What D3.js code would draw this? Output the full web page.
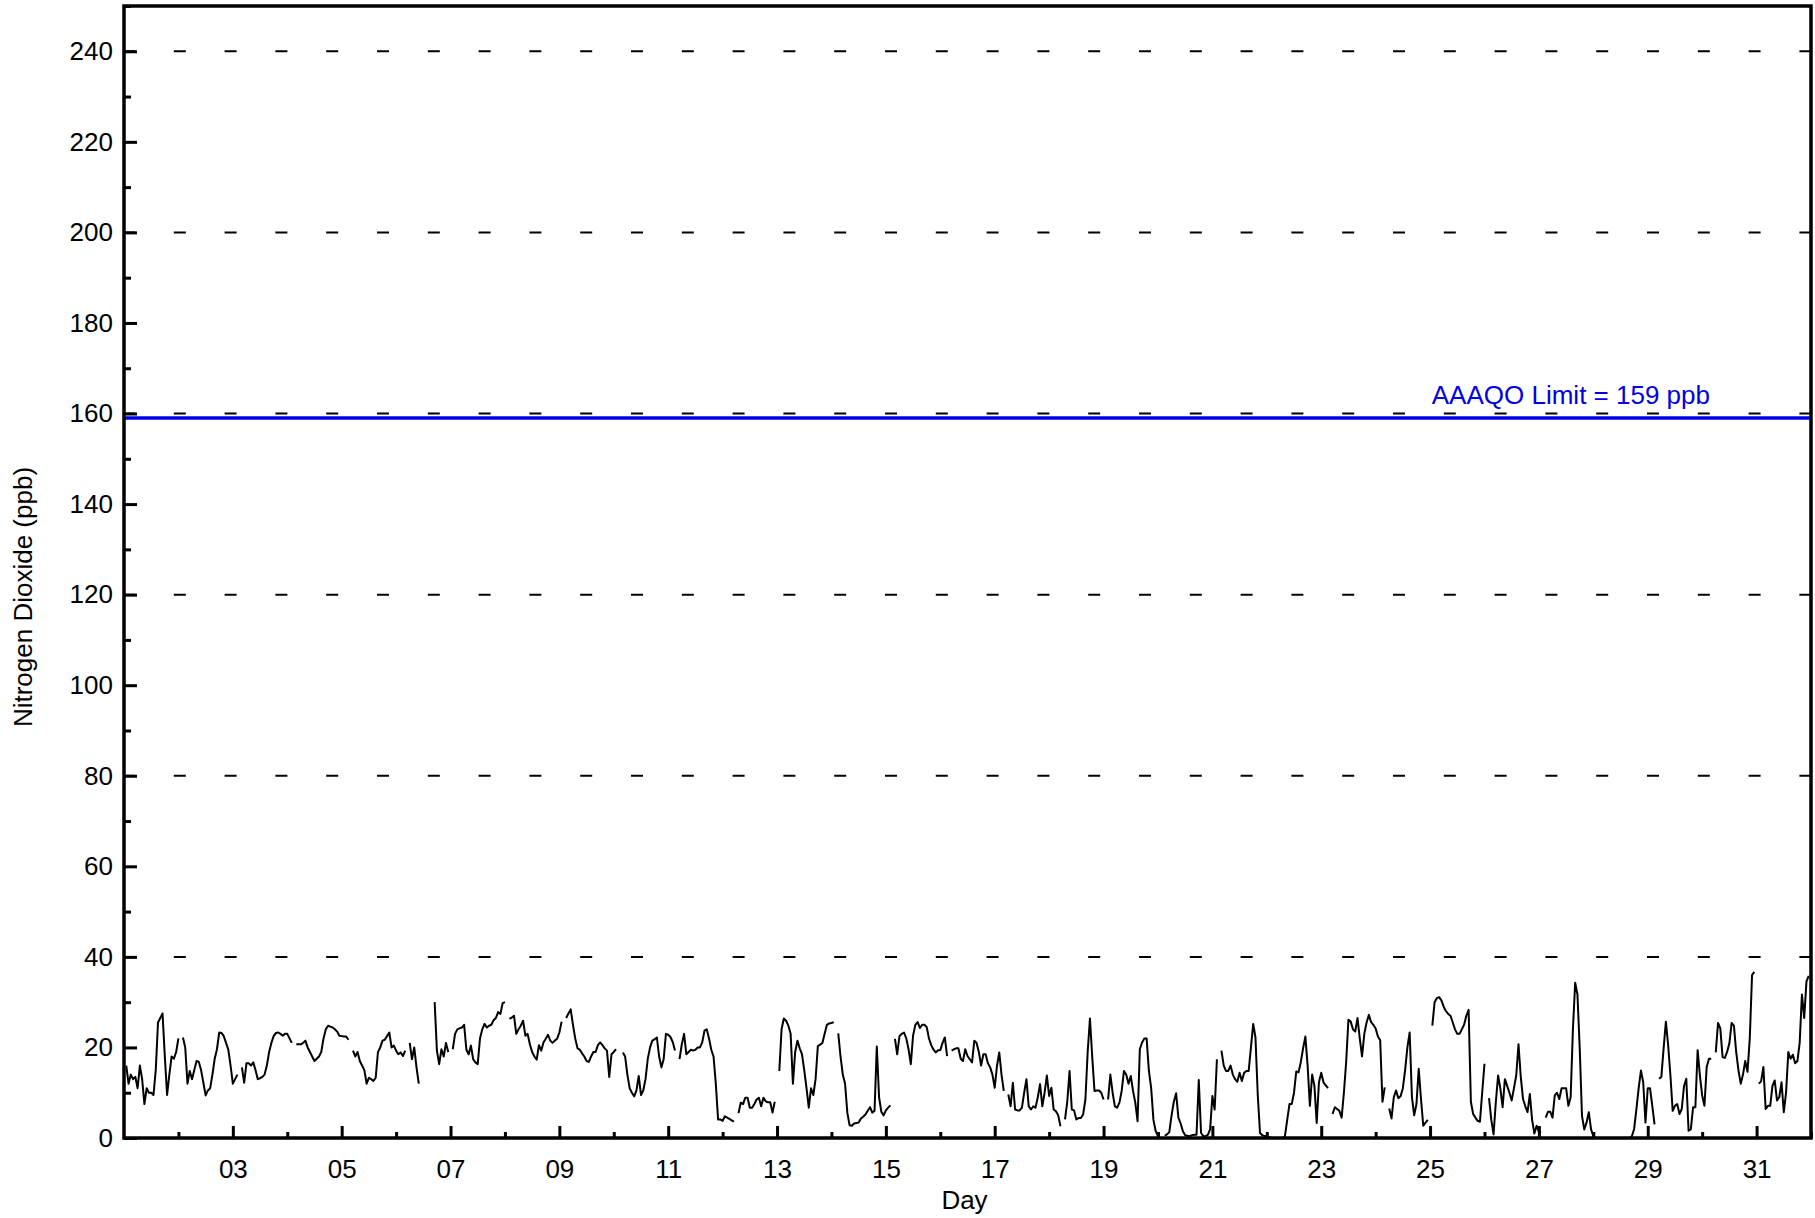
<!doctype html>
<html>
  <head>
    <script src="https://cdnjs.cloudflare.com/ajax/libs/d3/7.8.5/d3.min.js"></script>
  <style>
    body { margin: 0; background: #fff; }
    text { font-family: "Liberation Sans", Arial, sans-serif; }
  </style>
  </head>
  <body>
    <svg id="chart" width="1815" height="1218"></svg>
    <script>
      // hourly NO2 (ppb), one row per day of the month, null = no data
      var no2Hourly = [
        null,16,12,14,13,13.5,11,16,13,7.5,11,10,10,9.5,15,25.5,26.5,27.5,18,9.5,14,18,17.5,19,
        22,null,22.2,20,12,14.8,13,15,17,16.8,15,12.2,9.4,10.5,11,14,17.5,19.6,23.3,23.2,22.5,21,19.5,16,
        12,13,14,null,15.6,12.2,16.5,16.5,16,16.7,15,13,13.2,13.5,14,16,19,21,22.5,23.2,23.3,23,22.6,23,
        23,22,21,null,20.7,20.7,20.7,21,21.5,20,19,18,17,17.5,18,19,22,24,24.8,24.6,24.4,24,23.5,22.6,
        22.5,22.4,22.4,21.7,null,19.3,18,19,17,16,15,12,13.3,13,12.6,13.3,19,20,21.5,21.7,22.5,23.3,20,20.4,
        19.3,18.5,18.9,18.1,19.3,null,21,17.4,20,15.6,12,null,null,null,null,null,null,30,19.3,16.3,19.6,18,21,19,
        null,19.6,23,24,24.2,24.4,25,19.5,18.5,20.4,17.4,16.7,16.3,22,24,25.2,24.4,24.8,25,26,26.5,27.8,27.4,29.8,
        30,null,26.3,26.6,27,23,24,24.8,25.9,22.6,23,20.7,19,18,17.3,20.5,19.3,21.1,21.9,22.8,21.5,21,21.5,21.9,
        23.3,25.7,null,26.5,27.5,28.4,25,22,19.8,19.5,18.7,18,17,16.8,18,19,19,20.5,21.1,20.5,19.8,19.3,13.5,18.5,
        19,19.6,null,null,18.9,18,14,11,10,9.2,10.5,13.7,9.5,10.5,13,17.5,20,21.5,21.8,22.2,18,15.6,17.4,23,
        22.8,22.3,21.2,19.3,null,17.4,20.7,23,18.5,19,19.5,19.3,19.5,20,20,21.1,23.7,24,22,19.5,18,12,4.1,4.1,
        3.8,4.8,4.5,4.2,3.9,3.6,null,5.5,7.8,7.5,8.9,8.9,6.7,6.7,7.5,8.5,8.9,7,8.9,8.1,7.9,7.9,5.6,8,
        null,14.8,24,26.4,25.9,24.8,23,12,19,21.5,19.8,18.5,15,11,6.7,11,9.5,13,20.3,20.6,21,23,25,25.3,
        25.4,25.6,null,23.1,18,14,12,5.6,2.8,2.7,3.2,3.3,3.4,4.3,4.7,5.2,6,6.8,5.6,6,20.2,9,5.8,5,
        6.1,6.7,7.2,null,21.9,18.5,22.5,23,23.3,22,19.6,16.3,22.6,25,25.6,24.3,25,25,24.5,22,20.5,19.5,18.9,19.4,
        19.4,21,22.2,18.1,null,19.3,19.6,19.8,19.8,17.5,17,19.6,18.1,17.4,16.7,21.5,21,19,16,18.5,18.5,16.5,15.6,14,
        11.1,15.9,18.9,14,10.4,null,9.6,7,12.2,6.3,6.1,6.1,6.7,10,13,7,6.3,7,6.7,9,11.9,7,10,13.8,
        9.3,11.1,6.3,5.9,5,2.6,null,4.1,8,14.8,6.3,6.1,4.1,4.4,4.4,5.2,8.5,19,26.4,18,10.4,10.5,10.5,10,
        8.5,null,8.5,14,10,7,6.7,7.8,10.4,14.8,14,12,13.7,10.4,7.8,3.7,19.6,21.1,22,22,14.8,11,4,1.5,
        0.4,null,null,0.5,0.8,1.3,5,8,9.9,4.5,3.2,1.5,0.6,0.5,0.4,0.6,0.7,0.7,12.8,1.1,0.4,0.4,0.7,1.9,
        9.3,6.3,17.4,null,19.3,16,14.8,14.8,16,14,13,12.4,14.4,12.6,14.4,14.8,14.8,20,25.2,22.2,9.6,1.1,0.6,0.4,
        0.5,0.2,0,0,0,0,0,0,0.4,4,7.5,7.5,10,14.7,14.5,16.8,19.8,22.4,16,7.1,14,11.5,3.3,12.3,
        14.4,12.3,11.6,11,null,5.3,6.8,6.4,6,4.5,10,16.8,26.1,25.7,24,23.5,26.5,22,18,23,25.5,27.2,25.6,25,
        24.2,22.4,21.6,8,11.2,null,6.5,4.3,9,10.5,8.8,9.2,11,15,20,23.3,9,5,7.5,15.3,8.6,2.7,3.4,4,
        null,24.8,30,30.9,31.1,30.4,29,28,27.4,27,25.5,24,23,23,24,25,27,28.3,8,5.3,4.5,3.8,3.6,10.1,
        16.4,null,8.8,4,0.8,7.9,13.8,10.9,6.8,13,11.5,10,8.3,11,13.8,20.7,13.5,8.6,7,5.7,9.7,4,1,2.7,
        1.3,1.2,null,4.5,5.8,5.8,4.5,9.4,10,8.6,11,11,11,7.1,9,24,34.3,31.7,19.8,4.9,1.9,3.4,5.7,1.9,
        0.4,0,0,0,0,0,0,0,0,0,0,0,0,0,0,0,0,0.4,2,6.4,11,14.9,12.3,3.4,
        11,11,7.1,3,null,13.1,13.5,19.8,25.7,20.5,13.8,6,7.1,7.5,5.3,6.4,11.5,13.1,1.6,1.9,6.8,6.8,19.4,13.8,
        9.4,7.1,15.7,17.5,17.5,null,18.9,25.4,24.2,17.9,17.7,19,20.9,25.4,24.8,19,15,12,14,17,14.6,22,36,36.7,
        null,12,12.5,15.7,6.4,7.1,7.1,11.5,12.7,8.3,9,12.3,5.7,10,19,17.5,18.4,16.5,17,21,31.7,26.5,34.6,35.8
      ];
      var firstDay = 1;
      var lastDay = 32;
      var xMajorDays = [3,5,7,9,11,13,15,17,19,21,23,25,27,29,31];
      var xMinorDays = [2,4,6,8,10,12,14,16,18,20,22,24,26,28,30,32];
      var yMajor = [0,20,40,60,80,100,120,140,160,180,200,220,240];
      var yMinor = [10,30,50,70,90,110,130,150,170,190,210,230,250];
      var gridValues = [40,80,120,160,200,240];
      var limitValue = 159;
      var limitLabel = "AAAQO Limit = 159 ppb";

      var plotLeft = 124, plotRight = 1811, plotTop = 6, plotBottom = 1138;
      var svg = d3.select("#chart");

      var x = d3.scaleLinear().domain([firstDay, lastDay]).range([plotLeft, plotRight]);
      var y = d3.scaleLinear().domain([0, 250]).range([plotBottom, plotTop]);

      // dashed grid
      svg.selectAll("line.grid")
        .data(gridValues)
        .enter()
        .append("line")
          .attr("class", "grid")
          .attr("x1", plotLeft)
          .attr("x2", plotRight)
          .attr("y1", d => y(d))
          .attr("y2", d => y(d))
          .style("stroke", "#000")
          .style("stroke-width", 2)
          .style("stroke-dasharray", "12 38.8")
          .style("stroke-dashoffset", 1);

      // limit line
      svg.append("line")
        .attr("x1", plotLeft)
        .attr("x2", plotRight)
        .attr("y1", y(limitValue))
        .attr("y2", y(limitValue))
        .style("stroke", "#0000e6")
        .style("stroke-width", 3.5);

      svg.append("text")
        .attr("x", 1710)
        .attr("y", y(limitValue) - 14)
        .attr("text-anchor", "end")
        .style("font-size", "26px")
        .style("fill", "#0000e6")
        .text(limitLabel);

      // data line
      var series = no2Hourly.map((v, i) => ({day: firstDay + i / 24, value: v}));
      var line = d3.line()
        .defined(d => d.value !== null)
        .x(d => x(d.day))
        .y(d => y(d.value));

      svg.append("path")
        .datum(series)
        .attr("d", line)
        .style("fill", "none")
        .style("stroke", "#000")
        .style("stroke-width", 2)
        .style("stroke-linejoin", "round");

      // axes, ticks pointing into the plot
      var yAxis = d3.axisLeft(y).tickValues(yMajor).tickSize(-13).tickPadding(11);
      var yAxisMinor = d3.axisLeft(y).tickValues(yMinor).tickSize(-7).tickFormat("");
      var xAxis = d3.axisBottom(x).tickValues(xMajorDays).tickSize(-12).tickPadding(22)
        .tickFormat(d3.format("02d"));
      var xAxisMinor = d3.axisBottom(x).tickValues(xMinorDays).tickSize(-6).tickFormat("");

      svg.append("g").attr("transform", "translate(" + plotLeft + ",0)").call(yAxis);
      svg.append("g").attr("transform", "translate(" + plotLeft + ",0)").call(yAxisMinor);
      svg.append("g").attr("transform", "translate(0," + plotBottom + ")").call(xAxis);
      svg.append("g").attr("transform", "translate(0," + plotBottom + ")").call(xAxisMinor);

      svg.selectAll("path.domain").remove();
      svg.selectAll(".tick line").style("stroke", "#000").style("stroke-width", 3);
      svg.selectAll(".tick text")
        .style("font-family", "'Liberation Sans', Arial, sans-serif")
        .style("font-size", "26px")
        .style("fill", "#000");

      // frame
      svg.append("rect")
        .attr("x", plotLeft)
        .attr("y", plotTop)
        .attr("width", plotRight - plotLeft)
        .attr("height", plotBottom - plotTop)
        .style("fill", "none")
        .style("stroke", "#000")
        .style("stroke-width", 3.5);

      // titles
      svg.append("text")
        .attr("x", (plotLeft + plotRight) / 2 - 3)
        .attr("y", 1209)
        .attr("text-anchor", "middle")
        .style("font-size", "26px")
        .text("Day");

      svg.append("text")
        .attr("transform", "translate(32,597) rotate(-90)")
        .attr("text-anchor", "middle")
        .style("font-size", "26px")
        .text("Nitrogen Dioxide (ppb)");
    </script>
  </body>
</html>
